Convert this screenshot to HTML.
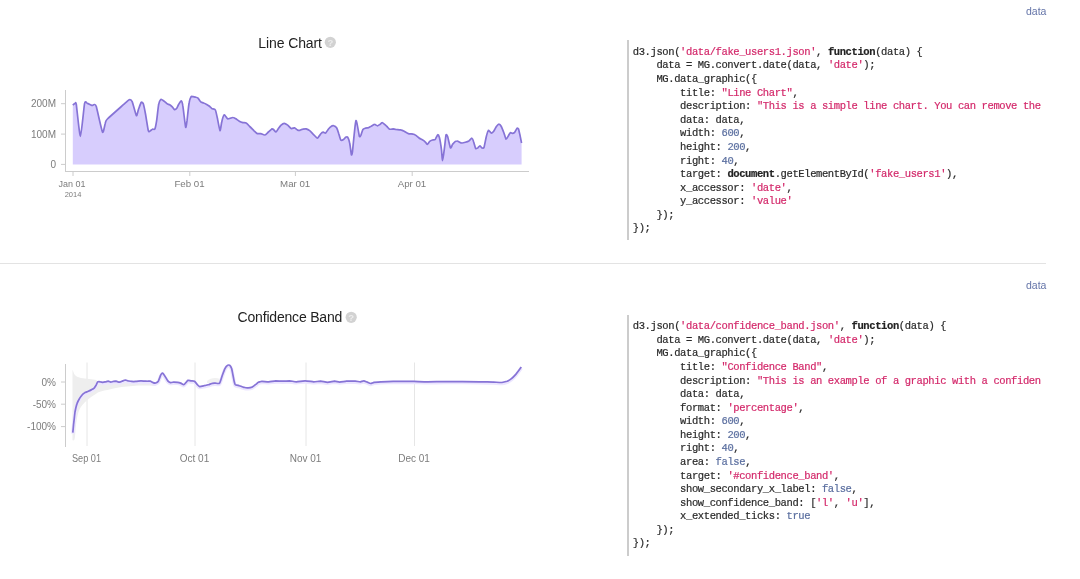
<!DOCTYPE html>
<html><head><meta charset="utf-8">
<style>
html,body{margin:0;padding:0;background:#fff;width:1080px;height:579px;overflow:hidden;position:relative}
body{font-family:"Liberation Sans",sans-serif;color:#333}
.abs{position:absolute}
.link{position:absolute;font-size:10.5px;color:#6474a8;line-height:1}
.title{position:absolute;font-size:14px;color:#222;line-height:1;white-space:nowrap}
.code{position:absolute;left:627px;width:411.5px;overflow:hidden;border-left:2px solid #ccc;}
.code pre{margin:0;padding:0 0 0 3.8px;font-family:"Liberation Mono",monospace;font-size:10.5px;letter-spacing:-0.39px;line-height:13.58px;color:#2a2a2a;-webkit-text-stroke:0.2px currentColor;white-space:pre}
.s{color:#d3286a}
.n{color:#5a6e9f}
.k{font-weight:bold;color:#222}
svg{position:absolute;left:0;top:0}
svg text{font-family:"Liberation Sans",sans-serif}
body>*{filter:blur(0.4px)}
</style></head><body>
<div class="link" style="left:1026px;top:5.8px">data</div>
<div class="link" style="left:1026px;top:279.9px">data</div>
<div class="abs" style="left:0;top:263.2px;width:1046px;height:1.3px;background:#e3e3e3"></div>
<div class="title" style="left:258.3px;top:35.8px;letter-spacing:-0.1px">Line Chart</div>
<div class="title" style="left:237.6px;top:310px;letter-spacing:-0.19px">Confidence Band</div>
<svg width="1080" height="579" viewBox="0 0 1080 579">
 <g>
  <circle cx="330.3" cy="42.3" r="5.6" fill="#d2d2d2"/>
  <text x="330.3" y="45.8" font-size="9.5" fill="#ececec" text-anchor="middle" font-weight="bold">?</text>
  <circle cx="351.2" cy="317.3" r="5.6" fill="#d2d2d2"/>
  <text x="351.2" y="320.9" font-size="9.5" fill="#ececec" text-anchor="middle" font-weight="bold">?</text>
 </g>
 <!-- chart 1 -->
 <path d="M72.8,105.2 C73.0,105.0 74.6,103.6 74.9,103.5 C75.3,103.5 75.7,101.2 76.3,104.5 C76.8,107.8 79.6,136.4 80.4,136.3 C81.3,136.2 83.9,106.7 84.6,103.4 C85.3,100.1 86.7,103.2 87.3,103.4 C88.0,103.6 90.3,104.7 90.8,104.9 C91.3,105.1 91.8,105.5 92.2,105.5 C92.5,105.4 93.8,104.4 94.2,104.5 C94.7,104.6 95.5,103.8 96.3,106.6 C97.1,109.3 101.6,130.5 102.5,132.1 C103.4,133.8 104.8,124.5 105.3,123.2 C105.8,121.8 105.3,121.1 107.4,119.0 C109.5,116.9 123.8,104.4 126.0,102.4 C128.2,100.5 128.9,99.7 129.5,99.7 C130.1,99.6 131.6,100.2 132.2,101.7 C132.9,103.3 135.8,114.8 136.4,115.6 C137.0,116.3 138.0,110.7 138.5,109.3 C139.0,108.0 140.7,103.0 141.2,102.4 C141.7,101.9 142.9,102.7 143.3,103.8 C143.7,105.0 145.0,111.3 145.5,114.0 C146.0,116.7 147.9,128.9 148.3,130.6 C148.7,132.3 149.3,131.4 149.7,131.3 C150.1,131.2 151.9,129.4 152.4,129.2 C153.0,129.0 154.5,129.8 154.9,128.9 C155.3,128.1 156.2,123.4 156.6,120.9 C157.0,118.5 158.2,106.5 158.7,104.3 C159.1,102.2 160.3,99.9 160.7,99.5 C161.1,99.1 162.3,99.9 162.8,100.2 C163.3,100.5 165.1,101.9 165.6,102.3 C166.0,102.7 167.2,103.8 167.6,104.1 C168.0,104.3 169.2,104.5 169.7,104.8 C170.2,105.1 172.0,106.6 172.5,107.1 C173.0,107.6 174.1,109.5 174.5,109.6 C175.0,109.7 176.2,109.0 176.6,108.5 C177.0,108.0 178.2,105.1 178.7,104.3 C179.1,103.6 180.8,100.8 181.2,100.9 C181.6,101.0 182.4,103.1 182.8,105.7 C183.3,108.4 185.2,125.6 185.6,127.1 C186.0,128.7 186.6,123.3 187.0,120.9 C187.3,118.5 188.6,105.4 189.1,103.0 C189.5,100.5 190.7,97.4 191.1,96.7 C191.5,96.1 192.7,96.7 193.2,96.7 C193.7,96.8 195.5,97.0 196.0,97.2 C196.4,97.3 197.5,97.7 198.0,98.1 C198.5,98.6 200.2,101.4 200.8,101.9 C201.3,102.3 203.0,102.7 203.6,103.0 C204.1,103.2 205.8,104.0 206.3,104.3 C206.9,104.6 208.5,105.6 209.1,106.0 C209.6,106.4 211.2,108.1 211.8,108.5 C212.5,108.9 214.7,108.9 215.3,109.9 C215.9,110.8 216.9,116.1 217.4,118.2 C217.8,120.2 219.6,130.2 220.0,130.6 C220.4,131.0 221.3,123.9 221.7,122.3 C222.0,120.8 223.5,115.7 223.9,115.1 C224.3,114.5 225.2,115.7 225.5,116.1 C225.9,116.5 227.1,118.6 227.6,118.8 C228.1,119.1 229.8,118.3 230.4,118.2 C230.9,118.0 232.6,117.4 233.1,117.5 C233.7,117.5 235.3,118.5 235.9,118.8 C236.5,119.2 238.6,120.8 239.3,121.2 C240.0,121.6 242.1,122.4 242.8,122.6 C243.5,122.8 245.6,122.6 246.2,123.0 C246.9,123.4 249.0,125.7 249.7,126.5 C250.5,127.2 253.1,129.9 253.8,130.6 C254.6,131.3 256.6,133.3 257.3,133.6 C258.0,133.9 260.0,133.5 260.8,133.6 C261.5,133.8 264.2,135.2 264.9,135.0 C265.7,134.9 267.7,132.6 268.4,132.0 C269.1,131.4 271.3,129.2 271.8,128.9 C272.3,128.7 272.8,128.9 273.2,129.2 C273.6,129.5 275.5,132.0 276.0,132.0 C276.4,132.0 277.5,129.9 278.0,129.2 C278.5,128.5 280.2,125.9 280.8,125.3 C281.4,124.8 283.6,123.4 284.2,123.4 C284.9,123.4 287.0,124.6 287.7,125.1 C288.4,125.6 290.5,128.2 291.2,128.5 C291.9,128.8 294.0,127.7 294.6,127.8 C295.2,128.0 296.8,129.7 297.4,129.9 C297.9,130.2 299.5,130.4 300.0,130.3 C300.5,130.2 302.1,129.3 302.8,129.2 C303.4,129.1 305.5,128.8 306.2,128.9 C306.9,129.1 309.0,130.1 309.7,130.6 C310.4,131.1 312.4,133.3 313.1,134.1 C313.9,134.8 316.6,138.0 317.3,138.2 C317.9,138.4 318.9,136.4 319.3,135.8 C319.8,135.3 321.0,133.4 321.4,133.1 C321.8,132.7 323.1,132.2 323.5,132.2 C323.9,132.2 325.1,133.4 325.6,133.1 C326.0,132.8 327.8,129.9 328.3,129.2 C328.9,128.5 330.5,126.8 331.1,126.5 C331.6,126.1 333.3,125.6 333.9,125.8 C334.4,125.9 336.1,127.1 336.6,127.8 C337.1,128.6 338.3,132.1 338.7,133.4 C339.1,134.6 340.3,139.4 340.8,140.0 C341.2,140.6 343.0,139.9 343.5,139.6 C344.0,139.3 345.2,137.5 345.6,137.2 C346.0,137.0 347.3,136.6 347.7,137.2 C348.1,137.8 349.4,141.3 349.7,143.0 C350.1,144.8 351.1,154.0 351.4,154.8 C351.7,155.6 352.2,153.7 352.5,151.3 C352.8,148.9 354.2,133.7 354.6,130.6 C354.9,127.5 355.7,121.2 356.0,120.7 C356.2,120.1 357.0,123.5 357.3,125.1 C357.7,126.6 359.1,135.4 359.4,136.4 C359.8,137.4 360.4,136.1 360.8,135.4 C361.1,134.7 362.4,130.2 362.9,129.5 C363.4,128.8 365.1,128.3 365.6,128.1 C366.2,127.9 367.8,127.8 368.4,127.6 C368.9,127.4 370.5,126.5 371.2,126.2 C371.8,125.9 374.0,124.4 374.6,124.4 C375.2,124.3 376.8,125.8 377.4,125.8 C377.9,125.8 379.5,124.7 380.0,124.4 C380.5,124.1 381.7,122.6 382.1,122.6 C382.5,122.5 383.7,123.6 384.1,124.0 C384.6,124.3 386.4,125.9 386.9,126.5 C387.5,127.0 389.0,129.0 389.7,129.2 C390.3,129.5 392.5,128.9 393.1,128.9 C393.8,129.0 395.1,129.4 395.9,129.5 C396.6,129.6 399.9,129.7 400.7,129.9 C401.6,130.1 403.4,130.9 404.2,131.3 C404.9,131.7 407.4,133.4 408.3,133.6 C409.2,133.9 412.4,133.9 413.2,134.1 C413.9,134.2 415.3,135.0 415.9,135.4 C416.5,135.8 418.7,137.7 419.4,138.2 C420.1,138.7 422.2,139.6 422.8,140.0 C423.5,140.4 425.2,141.9 425.6,142.3 C426.0,142.8 426.8,144.5 427.2,144.4 C427.7,144.3 429.2,141.8 429.7,141.4 C430.3,140.9 431.9,140.2 432.5,140.0 C433.1,139.8 434.7,139.8 435.3,139.3 C435.8,138.8 437.3,134.9 437.8,134.7 C438.2,134.6 439.0,136.0 439.4,137.5 C439.8,139.0 441.2,147.6 441.5,149.9 C441.8,152.3 442.2,160.7 442.4,160.7 C442.7,160.7 443.9,152.5 444.2,149.9 C444.6,147.4 445.7,136.3 446.0,135.0 C446.4,133.7 447.3,135.5 447.7,136.8 C448.1,138.1 450.0,147.1 450.5,147.9 C451.0,148.6 452.1,145.0 452.5,144.4 C453.0,143.8 454.5,142.0 455.0,141.7 C455.5,141.3 456.8,141.0 457.1,141.0 C457.4,140.9 457.9,141.3 458.1,141.4 C458.3,141.5 458.8,141.8 459.1,141.9 C459.5,142.1 461.3,143.0 461.9,143.0 C462.5,143.1 464.7,142.5 465.4,142.3 C466.1,142.1 468.2,141.4 468.8,141.0 C469.5,140.5 471.4,138.1 471.9,138.2 C472.3,138.3 473.3,140.6 473.6,141.7 C474.0,142.7 475.3,147.9 475.7,148.6 C476.1,149.2 477.4,148.1 477.8,147.9 C478.2,147.6 479.5,145.8 479.9,145.8 C480.3,145.8 481.5,147.7 481.9,147.9 C482.4,148.0 483.6,148.5 484.0,147.4 C484.4,146.4 485.7,139.2 486.1,137.5 C486.5,135.8 487.8,131.2 488.2,130.6 C488.5,130.0 489.2,131.0 489.5,131.3 C489.9,131.5 491.2,133.1 491.6,133.1 C492.0,133.1 493.2,132.0 493.7,131.3 C494.2,130.6 495.9,127.2 496.4,126.5 C497.0,125.7 498.5,124.1 498.9,124.1 C499.4,124.1 500.8,125.5 501.3,126.5 C501.8,127.4 503.6,132.1 504.1,133.4 C504.5,134.6 505.7,138.9 506.1,139.2 C506.5,139.4 507.8,136.8 508.2,136.1 C508.6,135.5 509.9,132.9 510.3,132.7 C510.7,132.4 511.9,133.4 512.3,133.4 C512.8,133.4 513.9,133.2 514.4,132.7 C514.9,132.1 516.8,128.5 517.2,128.1 C517.6,127.8 518.3,128.5 518.6,129.2 C518.8,129.9 519.6,133.4 519.9,134.7 C520.2,136.1 521.4,142.2 521.6,143.0 L521.6,164.4 L72.8,164.4 Z" fill="#d7cdfd"/>
 <path d="M72.8,105.2 C73.0,105.0 74.6,103.6 74.9,103.5 C75.3,103.5 75.7,101.2 76.3,104.5 C76.8,107.8 79.6,136.4 80.4,136.3 C81.3,136.2 83.9,106.7 84.6,103.4 C85.3,100.1 86.7,103.2 87.3,103.4 C88.0,103.6 90.3,104.7 90.8,104.9 C91.3,105.1 91.8,105.5 92.2,105.5 C92.5,105.4 93.8,104.4 94.2,104.5 C94.7,104.6 95.5,103.8 96.3,106.6 C97.1,109.3 101.6,130.5 102.5,132.1 C103.4,133.8 104.8,124.5 105.3,123.2 C105.8,121.8 105.3,121.1 107.4,119.0 C109.5,116.9 123.8,104.4 126.0,102.4 C128.2,100.5 128.9,99.7 129.5,99.7 C130.1,99.6 131.6,100.2 132.2,101.7 C132.9,103.3 135.8,114.8 136.4,115.6 C137.0,116.3 138.0,110.7 138.5,109.3 C139.0,108.0 140.7,103.0 141.2,102.4 C141.7,101.9 142.9,102.7 143.3,103.8 C143.7,105.0 145.0,111.3 145.5,114.0 C146.0,116.7 147.9,128.9 148.3,130.6 C148.7,132.3 149.3,131.4 149.7,131.3 C150.1,131.2 151.9,129.4 152.4,129.2 C153.0,129.0 154.5,129.8 154.9,128.9 C155.3,128.1 156.2,123.4 156.6,120.9 C157.0,118.5 158.2,106.5 158.7,104.3 C159.1,102.2 160.3,99.9 160.7,99.5 C161.1,99.1 162.3,99.9 162.8,100.2 C163.3,100.5 165.1,101.9 165.6,102.3 C166.0,102.7 167.2,103.8 167.6,104.1 C168.0,104.3 169.2,104.5 169.7,104.8 C170.2,105.1 172.0,106.6 172.5,107.1 C173.0,107.6 174.1,109.5 174.5,109.6 C175.0,109.7 176.2,109.0 176.6,108.5 C177.0,108.0 178.2,105.1 178.7,104.3 C179.1,103.6 180.8,100.8 181.2,100.9 C181.6,101.0 182.4,103.1 182.8,105.7 C183.3,108.4 185.2,125.6 185.6,127.1 C186.0,128.7 186.6,123.3 187.0,120.9 C187.3,118.5 188.6,105.4 189.1,103.0 C189.5,100.5 190.7,97.4 191.1,96.7 C191.5,96.1 192.7,96.7 193.2,96.7 C193.7,96.8 195.5,97.0 196.0,97.2 C196.4,97.3 197.5,97.7 198.0,98.1 C198.5,98.6 200.2,101.4 200.8,101.9 C201.3,102.3 203.0,102.7 203.6,103.0 C204.1,103.2 205.8,104.0 206.3,104.3 C206.9,104.6 208.5,105.6 209.1,106.0 C209.6,106.4 211.2,108.1 211.8,108.5 C212.5,108.9 214.7,108.9 215.3,109.9 C215.9,110.8 216.9,116.1 217.4,118.2 C217.8,120.2 219.6,130.2 220.0,130.6 C220.4,131.0 221.3,123.9 221.7,122.3 C222.0,120.8 223.5,115.7 223.9,115.1 C224.3,114.5 225.2,115.7 225.5,116.1 C225.9,116.5 227.1,118.6 227.6,118.8 C228.1,119.1 229.8,118.3 230.4,118.2 C230.9,118.0 232.6,117.4 233.1,117.5 C233.7,117.5 235.3,118.5 235.9,118.8 C236.5,119.2 238.6,120.8 239.3,121.2 C240.0,121.6 242.1,122.4 242.8,122.6 C243.5,122.8 245.6,122.6 246.2,123.0 C246.9,123.4 249.0,125.7 249.7,126.5 C250.5,127.2 253.1,129.9 253.8,130.6 C254.6,131.3 256.6,133.3 257.3,133.6 C258.0,133.9 260.0,133.5 260.8,133.6 C261.5,133.8 264.2,135.2 264.9,135.0 C265.7,134.9 267.7,132.6 268.4,132.0 C269.1,131.4 271.3,129.2 271.8,128.9 C272.3,128.7 272.8,128.9 273.2,129.2 C273.6,129.5 275.5,132.0 276.0,132.0 C276.4,132.0 277.5,129.9 278.0,129.2 C278.5,128.5 280.2,125.9 280.8,125.3 C281.4,124.8 283.6,123.4 284.2,123.4 C284.9,123.4 287.0,124.6 287.7,125.1 C288.4,125.6 290.5,128.2 291.2,128.5 C291.9,128.8 294.0,127.7 294.6,127.8 C295.2,128.0 296.8,129.7 297.4,129.9 C297.9,130.2 299.5,130.4 300.0,130.3 C300.5,130.2 302.1,129.3 302.8,129.2 C303.4,129.1 305.5,128.8 306.2,128.9 C306.9,129.1 309.0,130.1 309.7,130.6 C310.4,131.1 312.4,133.3 313.1,134.1 C313.9,134.8 316.6,138.0 317.3,138.2 C317.9,138.4 318.9,136.4 319.3,135.8 C319.8,135.3 321.0,133.4 321.4,133.1 C321.8,132.7 323.1,132.2 323.5,132.2 C323.9,132.2 325.1,133.4 325.6,133.1 C326.0,132.8 327.8,129.9 328.3,129.2 C328.9,128.5 330.5,126.8 331.1,126.5 C331.6,126.1 333.3,125.6 333.9,125.8 C334.4,125.9 336.1,127.1 336.6,127.8 C337.1,128.6 338.3,132.1 338.7,133.4 C339.1,134.6 340.3,139.4 340.8,140.0 C341.2,140.6 343.0,139.9 343.5,139.6 C344.0,139.3 345.2,137.5 345.6,137.2 C346.0,137.0 347.3,136.6 347.7,137.2 C348.1,137.8 349.4,141.3 349.7,143.0 C350.1,144.8 351.1,154.0 351.4,154.8 C351.7,155.6 352.2,153.7 352.5,151.3 C352.8,148.9 354.2,133.7 354.6,130.6 C354.9,127.5 355.7,121.2 356.0,120.7 C356.2,120.1 357.0,123.5 357.3,125.1 C357.7,126.6 359.1,135.4 359.4,136.4 C359.8,137.4 360.4,136.1 360.8,135.4 C361.1,134.7 362.4,130.2 362.9,129.5 C363.4,128.8 365.1,128.3 365.6,128.1 C366.2,127.9 367.8,127.8 368.4,127.6 C368.9,127.4 370.5,126.5 371.2,126.2 C371.8,125.9 374.0,124.4 374.6,124.4 C375.2,124.3 376.8,125.8 377.4,125.8 C377.9,125.8 379.5,124.7 380.0,124.4 C380.5,124.1 381.7,122.6 382.1,122.6 C382.5,122.5 383.7,123.6 384.1,124.0 C384.6,124.3 386.4,125.9 386.9,126.5 C387.5,127.0 389.0,129.0 389.7,129.2 C390.3,129.5 392.5,128.9 393.1,128.9 C393.8,129.0 395.1,129.4 395.9,129.5 C396.6,129.6 399.9,129.7 400.7,129.9 C401.6,130.1 403.4,130.9 404.2,131.3 C404.9,131.7 407.4,133.4 408.3,133.6 C409.2,133.9 412.4,133.9 413.2,134.1 C413.9,134.2 415.3,135.0 415.9,135.4 C416.5,135.8 418.7,137.7 419.4,138.2 C420.1,138.7 422.2,139.6 422.8,140.0 C423.5,140.4 425.2,141.9 425.6,142.3 C426.0,142.8 426.8,144.5 427.2,144.4 C427.7,144.3 429.2,141.8 429.7,141.4 C430.3,140.9 431.9,140.2 432.5,140.0 C433.1,139.8 434.7,139.8 435.3,139.3 C435.8,138.8 437.3,134.9 437.8,134.7 C438.2,134.6 439.0,136.0 439.4,137.5 C439.8,139.0 441.2,147.6 441.5,149.9 C441.8,152.3 442.2,160.7 442.4,160.7 C442.7,160.7 443.9,152.5 444.2,149.9 C444.6,147.4 445.7,136.3 446.0,135.0 C446.4,133.7 447.3,135.5 447.7,136.8 C448.1,138.1 450.0,147.1 450.5,147.9 C451.0,148.6 452.1,145.0 452.5,144.4 C453.0,143.8 454.5,142.0 455.0,141.7 C455.5,141.3 456.8,141.0 457.1,141.0 C457.4,140.9 457.9,141.3 458.1,141.4 C458.3,141.5 458.8,141.8 459.1,141.9 C459.5,142.1 461.3,143.0 461.9,143.0 C462.5,143.1 464.7,142.5 465.4,142.3 C466.1,142.1 468.2,141.4 468.8,141.0 C469.5,140.5 471.4,138.1 471.9,138.2 C472.3,138.3 473.3,140.6 473.6,141.7 C474.0,142.7 475.3,147.9 475.7,148.6 C476.1,149.2 477.4,148.1 477.8,147.9 C478.2,147.6 479.5,145.8 479.9,145.8 C480.3,145.8 481.5,147.7 481.9,147.9 C482.4,148.0 483.6,148.5 484.0,147.4 C484.4,146.4 485.7,139.2 486.1,137.5 C486.5,135.8 487.8,131.2 488.2,130.6 C488.5,130.0 489.2,131.0 489.5,131.3 C489.9,131.5 491.2,133.1 491.6,133.1 C492.0,133.1 493.2,132.0 493.7,131.3 C494.2,130.6 495.9,127.2 496.4,126.5 C497.0,125.7 498.5,124.1 498.9,124.1 C499.4,124.1 500.8,125.5 501.3,126.5 C501.8,127.4 503.6,132.1 504.1,133.4 C504.5,134.6 505.7,138.9 506.1,139.2 C506.5,139.4 507.8,136.8 508.2,136.1 C508.6,135.5 509.9,132.9 510.3,132.7 C510.7,132.4 511.9,133.4 512.3,133.4 C512.8,133.4 513.9,133.2 514.4,132.7 C514.9,132.1 516.8,128.5 517.2,128.1 C517.6,127.8 518.3,128.5 518.6,129.2 C518.8,129.9 519.6,133.4 519.9,134.7 C520.2,136.1 521.4,142.2 521.6,143.0" fill="none" stroke="#8673d6" stroke-width="1.7" stroke-linejoin="round"/>
 <g stroke="#ccc" stroke-width="1" fill="none">
  <line x1="65.5" y1="90" x2="65.5" y2="172"/>
  <line x1="65" y1="171.5" x2="529" y2="171.5"/>
  <line x1="61" y1="103.7" x2="65" y2="103.7"/>
  <line x1="61" y1="134.1" x2="65" y2="134.1"/>
  <line x1="61" y1="164.4" x2="65" y2="164.4"/>
  <line x1="73" y1="171.5" x2="73" y2="176"/>
  <line x1="189.8" y1="171.5" x2="189.8" y2="176"/>
  <line x1="295.4" y1="171.5" x2="295.4" y2="176"/>
  <line x1="412.2" y1="171.5" x2="412.2" y2="176"/>
 </g>
 <g font-size="10" fill="#7c7c7c" text-anchor="end">
  <text x="56" y="107.3">200M</text>
  <text x="56" y="137.7">100M</text>
  <text x="56" y="168">0</text>
 </g>
 <g font-size="10" fill="#7c7c7c" text-anchor="middle">
  <text x="72" y="187.1" font-size="9.7" textLength="27" lengthAdjust="spacingAndGlyphs">Jan 01</text>
  <text x="189.5" y="187.1" font-size="9.7">Feb 01</text>
  <text x="295.2" y="187.1" font-size="9.7">Mar 01</text>
  <text x="412" y="187.1" font-size="9.7">Apr 01</text>
  <text x="73" y="197" font-size="7.5">2014</text>
 </g>
 <!-- chart 2 -->
 <g stroke="#ccc" stroke-width="1" fill="none">
  <line x1="65.5" y1="364" x2="65.5" y2="447"/>
  <line x1="61" y1="382" x2="65" y2="382"/>
  <line x1="61" y1="404.2" x2="65" y2="404.2"/>
  <line x1="61" y1="426.6" x2="65" y2="426.6"/>
 </g>
 <g stroke="#e6e6e6" stroke-width="1">
  <line x1="87" y1="362.5" x2="87" y2="446"/>
  <line x1="195" y1="362.5" x2="195" y2="446"/>
  <line x1="306" y1="362.5" x2="306" y2="446"/>
  <line x1="414.5" y1="362.5" x2="414.5" y2="446"/>
 </g>
 <path d="M72.5,369.5 C72.9,370.4 73.8,373.7 74.9,375.0 C76.0,376.3 77.3,376.9 79.3,377.5 C81.3,378.1 84.4,378.3 87.0,378.7 C89.6,379.1 93.2,379.4 95.0,379.8 C96.8,380.2 96.9,381.0 97.8,381.3 C98.7,381.5 99.5,381.2 100.4,381.3 C101.3,381.4 102.1,381.8 103.0,381.8 C103.9,381.8 104.7,381.4 105.6,381.3 C106.5,381.1 107.3,380.7 108.2,380.8 C109.0,380.8 109.9,381.6 110.8,381.6 C111.6,381.6 112.5,381.1 113.4,380.9 C114.2,380.8 114.9,380.6 116.0,380.8 C117.0,380.9 118.4,381.6 119.4,381.6 C120.4,381.6 121.0,381.1 122.0,380.8 C123.0,380.4 124.4,379.6 125.5,379.5 C126.5,379.5 127.0,380.2 128.0,380.4 C129.0,380.6 130.2,380.8 131.5,380.9 C132.8,381.0 134.2,381.0 135.8,380.9 C137.4,380.8 139.3,380.4 141.0,380.4 C142.7,380.4 144.6,380.7 146.2,380.8 C147.8,380.8 149.3,380.5 150.5,380.8 C151.6,381.0 152.2,381.8 153.1,382.1 C153.9,382.4 155.2,382.4 155.7,382.5 L156.0,385.0 C155.8,385.1 156.9,385.8 154.9,385.9 C152.9,386.0 147.5,385.6 143.8,385.6 C140.1,385.6 136.4,385.7 132.7,385.9 C129.0,386.1 125.2,386.4 121.5,387.0 C117.8,387.6 114.1,388.4 110.4,389.2 C106.7,390.0 101.9,391.1 99.3,392.0 C96.7,392.9 96.9,393.3 95.0,394.6 C93.1,395.9 89.9,397.9 87.7,399.7 C85.5,401.5 83.6,403.3 82.0,405.5 C80.4,407.7 79.3,409.6 78.3,412.7 C77.3,415.8 76.7,419.9 76.1,424.3 C75.5,428.7 75.3,436.1 74.7,438.8 C74.1,441.5 72.9,440.1 72.5,440.3 Z" fill="#eeeeee"/><path d="M207,381 C210,378 216,377 220,379 L220,383 C215,383 210,383 207,383 Z" fill="#f1f1f1"/>
 <path d="M72.8,432.7 C72.9,431.9 73.4,426.2 73.6,424.1 C73.9,422.0 74.7,414.1 75.0,412.0 C75.4,409.9 76.6,404.7 77.1,403.4 C77.6,402.0 79.2,399.0 79.7,398.2 C80.2,397.3 81.8,395.3 82.3,394.7 C82.8,394.2 84.3,393.0 84.9,392.6 C85.5,392.3 87.6,391.6 88.3,391.3 C89.0,391.0 91.2,389.9 91.8,389.5 C92.4,389.2 93.9,388.3 94.4,387.8 C94.8,387.4 95.7,385.8 96.1,385.2 C96.4,384.6 97.4,382.1 97.8,381.8 C98.3,381.4 99.9,381.7 100.4,381.8 C100.9,381.8 102.5,382.3 103.0,382.3 C103.5,382.3 105.1,381.9 105.6,381.8 C106.1,381.7 107.7,381.2 108.2,381.2 C108.7,381.3 110.3,382.1 110.8,382.1 C111.3,382.1 112.8,381.5 113.4,381.4 C113.9,381.3 115.3,381.2 116.0,381.2 C116.6,381.3 118.8,382.1 119.4,382.1 C120.0,382.1 121.4,381.5 122.0,381.2 C122.6,381.0 124.8,380.1 125.5,380.0 C126.1,380.0 127.4,380.8 128.0,380.9 C128.6,381.0 130.7,381.4 131.5,381.4 C132.3,381.5 134.9,381.5 135.8,381.4 C136.8,381.4 140.0,380.9 141.0,380.9 C142.0,380.9 145.2,381.2 146.2,381.2 C147.1,381.3 149.8,381.1 150.5,381.2 C151.2,381.4 152.6,382.5 153.1,382.6 C153.6,382.8 155.2,383.1 155.7,383.0 C156.2,382.8 157.7,382.1 158.3,381.2 C158.8,380.4 160.4,375.7 160.8,374.9 C161.3,374.0 162.1,373.0 162.6,373.1 C163.0,373.3 164.7,375.8 165.2,376.6 C165.7,377.4 167.3,380.3 167.8,380.9 C168.3,381.5 169.8,382.5 170.4,382.6 C171.0,382.8 173.1,382.2 173.8,382.1 C174.5,382.1 176.6,382.2 177.3,382.3 C178.0,382.4 180.1,382.9 180.7,383.1 C181.4,383.4 183.3,384.8 183.8,384.7 C184.3,384.7 185.5,383.1 185.9,382.6 C186.3,382.2 187.5,380.6 188.0,380.4 C188.5,380.2 190.4,380.8 191.1,380.9 C191.7,381.0 193.9,380.9 194.5,381.2 C195.1,381.6 196.6,383.8 197.1,384.4 C197.6,384.9 199.0,386.5 199.7,386.6 C200.4,386.7 203.2,385.9 204.0,385.7 C204.9,385.6 207.6,384.9 208.4,384.7 C209.1,384.5 211.1,383.7 211.8,383.5 C212.5,383.3 214.5,383.2 215.3,383.1 C216.0,383.1 218.9,383.9 219.6,383.1 C220.3,382.4 221.7,377.2 222.2,375.7 C222.7,374.3 224.3,369.9 224.8,368.8 C225.3,367.8 226.8,365.7 227.4,365.4 C227.9,365.0 229.5,365.0 229.9,365.4 C230.4,365.7 231.3,367.6 231.7,368.8 C232.0,370.0 233.1,375.9 233.4,377.4 C233.7,379.0 234.5,383.5 235.1,384.4 C235.7,385.2 238.6,385.4 239.4,385.7 C240.3,386.0 242.9,387.1 243.8,387.3 C244.6,387.5 247.2,387.9 248.1,387.8 C248.9,387.8 251.6,387.3 252.4,386.9 C253.2,386.6 255.2,384.8 255.8,384.4 C256.5,383.9 258.0,382.5 258.4,382.3 C258.9,382.0 259.7,381.9 260.0,381.8 C260.3,381.7 261.0,381.4 261.9,381.4 C262.8,381.4 267.4,381.8 268.8,381.8 C270.2,381.7 274.3,381.0 275.7,380.9 C277.1,380.9 281.2,381.2 282.6,381.2 C284.0,381.2 288.2,380.9 289.5,380.9 C290.9,381.0 294.9,381.8 296.4,381.8 C298.0,381.8 303.4,380.9 305.1,380.9 C306.8,380.9 312.2,381.7 313.7,381.8 C315.3,381.8 319.2,381.2 320.6,381.2 C322.0,381.3 326.2,382.3 327.5,382.3 C328.9,382.3 333.2,381.3 334.4,381.2 C335.7,381.2 338.4,382.1 339.6,382.1 C340.8,382.1 345.0,381.3 346.5,381.2 C348.1,381.2 353.8,381.2 355.2,381.2 C356.6,381.3 359.5,381.8 360.4,381.8 C361.2,381.7 363.1,380.9 363.8,380.9 C364.5,380.9 366.6,381.9 367.3,382.1 C368.0,382.4 370.0,383.5 370.7,383.5 C371.4,383.5 373.1,382.5 374.2,382.3 C375.2,382.1 379.2,381.9 381.1,381.8 C383.0,381.7 389.9,381.5 393.2,381.4 C396.5,381.4 410.4,381.4 413.9,381.4 C417.4,381.5 424.6,381.8 427.7,381.8 C430.8,381.8 441.5,381.6 445.0,381.6 C448.5,381.6 458.8,381.6 462.3,381.6 C465.7,381.6 476.4,381.7 479.5,381.8 C482.6,381.8 491.1,382.1 493.4,382.1 C495.6,382.2 500.6,382.6 502.0,382.5 C503.4,382.4 506.2,381.6 507.2,381.3 C508.1,380.9 510.6,379.4 511.5,378.7 C512.4,378.0 514.8,375.5 515.8,374.4 C516.8,373.2 520.8,367.8 521.3,367.1" fill="none" stroke="#ece6ff" stroke-width="3.5" transform="translate(0,1)" stroke-linejoin="round"/>
 <path d="M72.8,432.7 C72.9,431.9 73.4,426.2 73.6,424.1 C73.9,422.0 74.7,414.1 75.0,412.0 C75.4,409.9 76.6,404.7 77.1,403.4 C77.6,402.0 79.2,399.0 79.7,398.2 C80.2,397.3 81.8,395.3 82.3,394.7 C82.8,394.2 84.3,393.0 84.9,392.6 C85.5,392.3 87.6,391.6 88.3,391.3 C89.0,391.0 91.2,389.9 91.8,389.5 C92.4,389.2 93.9,388.3 94.4,387.8 C94.8,387.4 95.7,385.8 96.1,385.2 C96.4,384.6 97.4,382.1 97.8,381.8 C98.3,381.4 99.9,381.7 100.4,381.8 C100.9,381.8 102.5,382.3 103.0,382.3 C103.5,382.3 105.1,381.9 105.6,381.8 C106.1,381.7 107.7,381.2 108.2,381.2 C108.7,381.3 110.3,382.1 110.8,382.1 C111.3,382.1 112.8,381.5 113.4,381.4 C113.9,381.3 115.3,381.2 116.0,381.2 C116.6,381.3 118.8,382.1 119.4,382.1 C120.0,382.1 121.4,381.5 122.0,381.2 C122.6,381.0 124.8,380.1 125.5,380.0 C126.1,380.0 127.4,380.8 128.0,380.9 C128.6,381.0 130.7,381.4 131.5,381.4 C132.3,381.5 134.9,381.5 135.8,381.4 C136.8,381.4 140.0,380.9 141.0,380.9 C142.0,380.9 145.2,381.2 146.2,381.2 C147.1,381.3 149.8,381.1 150.5,381.2 C151.2,381.4 152.6,382.5 153.1,382.6 C153.6,382.8 155.2,383.1 155.7,383.0 C156.2,382.8 157.7,382.1 158.3,381.2 C158.8,380.4 160.4,375.7 160.8,374.9 C161.3,374.0 162.1,373.0 162.6,373.1 C163.0,373.3 164.7,375.8 165.2,376.6 C165.7,377.4 167.3,380.3 167.8,380.9 C168.3,381.5 169.8,382.5 170.4,382.6 C171.0,382.8 173.1,382.2 173.8,382.1 C174.5,382.1 176.6,382.2 177.3,382.3 C178.0,382.4 180.1,382.9 180.7,383.1 C181.4,383.4 183.3,384.8 183.8,384.7 C184.3,384.7 185.5,383.1 185.9,382.6 C186.3,382.2 187.5,380.6 188.0,380.4 C188.5,380.2 190.4,380.8 191.1,380.9 C191.7,381.0 193.9,380.9 194.5,381.2 C195.1,381.6 196.6,383.8 197.1,384.4 C197.6,384.9 199.0,386.5 199.7,386.6 C200.4,386.7 203.2,385.9 204.0,385.7 C204.9,385.6 207.6,384.9 208.4,384.7 C209.1,384.5 211.1,383.7 211.8,383.5 C212.5,383.3 214.5,383.2 215.3,383.1 C216.0,383.1 218.9,383.9 219.6,383.1 C220.3,382.4 221.7,377.2 222.2,375.7 C222.7,374.3 224.3,369.9 224.8,368.8 C225.3,367.8 226.8,365.7 227.4,365.4 C227.9,365.0 229.5,365.0 229.9,365.4 C230.4,365.7 231.3,367.6 231.7,368.8 C232.0,370.0 233.1,375.9 233.4,377.4 C233.7,379.0 234.5,383.5 235.1,384.4 C235.7,385.2 238.6,385.4 239.4,385.7 C240.3,386.0 242.9,387.1 243.8,387.3 C244.6,387.5 247.2,387.9 248.1,387.8 C248.9,387.8 251.6,387.3 252.4,386.9 C253.2,386.6 255.2,384.8 255.8,384.4 C256.5,383.9 258.0,382.5 258.4,382.3 C258.9,382.0 259.7,381.9 260.0,381.8 C260.3,381.7 261.0,381.4 261.9,381.4 C262.8,381.4 267.4,381.8 268.8,381.8 C270.2,381.7 274.3,381.0 275.7,380.9 C277.1,380.9 281.2,381.2 282.6,381.2 C284.0,381.2 288.2,380.9 289.5,380.9 C290.9,381.0 294.9,381.8 296.4,381.8 C298.0,381.8 303.4,380.9 305.1,380.9 C306.8,380.9 312.2,381.7 313.7,381.8 C315.3,381.8 319.2,381.2 320.6,381.2 C322.0,381.3 326.2,382.3 327.5,382.3 C328.9,382.3 333.2,381.3 334.4,381.2 C335.7,381.2 338.4,382.1 339.6,382.1 C340.8,382.1 345.0,381.3 346.5,381.2 C348.1,381.2 353.8,381.2 355.2,381.2 C356.6,381.3 359.5,381.8 360.4,381.8 C361.2,381.7 363.1,380.9 363.8,380.9 C364.5,380.9 366.6,381.9 367.3,382.1 C368.0,382.4 370.0,383.5 370.7,383.5 C371.4,383.5 373.1,382.5 374.2,382.3 C375.2,382.1 379.2,381.9 381.1,381.8 C383.0,381.7 389.9,381.5 393.2,381.4 C396.5,381.4 410.4,381.4 413.9,381.4 C417.4,381.5 424.6,381.8 427.7,381.8 C430.8,381.8 441.5,381.6 445.0,381.6 C448.5,381.6 458.8,381.6 462.3,381.6 C465.7,381.6 476.4,381.7 479.5,381.8 C482.6,381.8 491.1,382.1 493.4,382.1 C495.6,382.2 500.6,382.6 502.0,382.5 C503.4,382.4 506.2,381.6 507.2,381.3 C508.1,380.9 510.6,379.4 511.5,378.7 C512.4,378.0 514.8,375.5 515.8,374.4 C516.8,373.2 520.8,367.8 521.3,367.1" fill="none" stroke="#8673d6" stroke-width="1.7" stroke-linejoin="round"/>
 <g font-size="10" fill="#7c7c7c" text-anchor="end">
  <text x="56" y="385.6">0%</text>
  <text x="56" y="407.8">-50%</text>
  <text x="56" y="430.2">-100%</text>
 </g>
 <g font-size="10" fill="#7c7c7c" text-anchor="middle">
  <text x="86.5" y="462.1" textLength="29" lengthAdjust="spacingAndGlyphs">Sep 01</text>
  <text x="194.5" y="462.1">Oct 01</text>
  <text x="305.5" y="462.1">Nov 01</text>
  <text x="414" y="462.1">Dec 01</text>
 </g>
</svg>
<div class="code" style="top:40px;height:200px"><pre style="padding-top:5.9px">d3.json(<span class="s">'data/fake_users1.json'</span>, <span class="k">function</span>(data) {
    data = MG.convert.date(data, <span class="s">'date'</span>);
    MG.data_graphic({
        title: <span class="s">"Line Chart"</span>,
        description: <span class="s">"This is a simple line chart. You can remove the area portion by adding area: false in the arguments."</span>,
        data: data,
        width: <span class="n">600</span>,
        height: <span class="n">200</span>,
        right: <span class="n">40</span>,
        target: <span class="k">document</span>.getElementById(<span class="s">'fake_users1'</span>),
        x_accessor: <span class="s">'date'</span>,
        y_accessor: <span class="s">'value'</span>
    });
});</pre></div>
<div class="code" style="top:315px;height:241.2px"><pre style="padding-top:5.2px">d3.json(<span class="s">'data/confidence_band.json'</span>, <span class="k">function</span>(data) {
    data = MG.convert.date(data, <span class="s">'date'</span>);
    MG.data_graphic({
        title: <span class="s">"Confidence Band"</span>,
        description: <span class="s">"This is an example of a graphic with a confidence band and extended x-axis ticks enabled."</span>,
        data: data,
        format: <span class="s">'percentage'</span>,
        width: <span class="n">600</span>,
        height: <span class="n">200</span>,
        right: <span class="n">40</span>,
        area: <span class="n">false</span>,
        target: <span class="s">'#confidence_band'</span>,
        show_secondary_x_label: <span class="n">false</span>,
        show_confidence_band: [<span class="s">'l'</span>, <span class="s">'u'</span>],
        x_extended_ticks: <span class="n">true</span>
    });
});</pre></div>
</body></html>
